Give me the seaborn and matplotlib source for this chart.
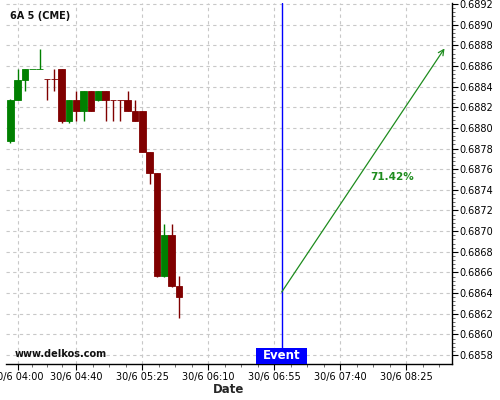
import numpy as np
import pandas as pd
import matplotlib
matplotlib.use("Agg")
import matplotlib.pyplot as plt
import matplotlib.transforms as mtransforms
from matplotlib.patches import Rectangle
import seaborn as sns

# ---- data ----
times = ["03:55", "04:00", "04:05", "04:10", "04:15", "04:20", "04:25", "04:30",
         "04:35", "04:40", "04:45", "04:50", "04:55", "05:00", "05:05", "05:10",
         "05:15", "05:20", "05:25", "05:30", "05:35", "05:40", "05:45", "05:50"]
opens = [0.68787, 0.68827, 0.68846, 0.68857, 0.68857, 0.68847, 0.68847, 0.68857,
         0.68807, 0.68827, 0.68816, 0.68836, 0.68827, 0.68836, 0.68827, 0.68827,
         0.68827, 0.68816, 0.68816, 0.68777, 0.68756, 0.68657, 0.68696, 0.68647]
highs = [0.68828, 0.68857, 0.68857, 0.68857, 0.68876, 0.68847, 0.68857, 0.68857,
         0.68827, 0.68836, 0.68836, 0.68836, 0.68836, 0.68836, 0.68827, 0.68827,
         0.68836, 0.68827, 0.68816, 0.68777, 0.68756, 0.68707, 0.68707, 0.68657]
lows = [0.68785, 0.68827, 0.68836, 0.68857, 0.68857, 0.68827, 0.68836, 0.68805,
        0.68805, 0.68807, 0.68807, 0.68816, 0.68826, 0.68807, 0.68807, 0.68807,
        0.68816, 0.68807, 0.68777, 0.68746, 0.68656, 0.68656, 0.68646, 0.68616]
closes = [0.68827, 0.68846, 0.68857, 0.68857, 0.68857, 0.68847, 0.68847, 0.68807,
          0.68827, 0.68816, 0.68836, 0.68816, 0.68836, 0.68827, 0.68827, 0.68827,
          0.68816, 0.68807, 0.68777, 0.68756, 0.68657, 0.68696, 0.68647, 0.68636]

tick_times = ["04:00", "04:40", "05:25", "06:10", "06:55", "07:40", "08:25"]
tick_labels = ["30/6 " + t for t in tick_times]
y_ticks = [0.6858, 0.6860, 0.6862, 0.6864, 0.6866, 0.6868, 0.6870, 0.6872, 0.6874,
           0.6876, 0.6878, 0.6880, 0.6882, 0.6884, 0.6886, 0.6888, 0.6890, 0.6892]

event_time = "07:00"
arrow_start = ("07:00", 0.68641)
arrow_end = ("08:51", 0.68877)
pct_text = "71.42%"
pct_pos = ("08:15", 0.68752)
title = "6A 5 (CME)"
watermark = "www.delkos.com"


def minutes(t):
    h, m = t.split(":")
    return (int(h) - 4) * 60 + int(m)


df = pd.DataFrame({"t": [minutes(t) for t in times], "open": opens, "high": highs,
                   "low": lows, "close": closes})

GREEN = "#008000"
RED = "#800000"
colors = []
prev_col = GREEN
for i, r in df.iterrows():
    if r.close > r.open:
        c = GREEN
    elif r.close < r.open:
        c = RED
    else:
        pc = df.close.iloc[i - 1] if i > 0 else r.close
        c = GREEN if r.close > pc else (RED if r.close < pc else prev_col)
    colors.append(c)
    prev_col = c
df["color"] = colors

XMIN, XMAX = -7.95, 296.1
YMIN, YMAX = 0.685713, 0.68921

# ---- figure ----
sns.set_theme(style="white")
plt.rcParams["font.family"] = ["DejaVu Sans"]
fig = plt.figure(figsize=(5, 4), dpi=100)
ax = fig.add_axes([0.012, 0.09, 0.892, 0.9025])

# grid
ax.set_axisbelow(True)
ax.grid(True, which="major", color="#c8c8c8", linestyle=(0, (3, 3)), linewidth=0.8)

# wicks
ax.vlines(df.t, df.low, df.high, colors=df.color, linewidth=1.0, zorder=2)
# bodies
bottoms = np.minimum(df.open, df.close)
heights = np.maximum(np.abs(df.close - df.open), 0.0000012)
ax.bar(df.t, heights, bottom=bottoms, width=4.6, color=df.color,
       edgecolor=df.color, linewidth=0.6, zorder=3)

# event line
ev = minutes(event_time)
ax.axvline(ev, color="#0000ff", linewidth=1.0, zorder=4)
trans = mtransforms.blended_transform_factory(ax.transData, ax.transAxes)
ax.add_patch(Rectangle((ev - 17.25, 0.0), 34.5, 0.0435, transform=trans,
                       facecolor="#0000ff", edgecolor="none", zorder=5, clip_on=False))
ax.text(ev, 0.0225, "Event", transform=trans, ha="center", va="center",
        color="white", fontsize=8.5, fontweight="bold", zorder=6)

# arrow
ax.annotate("", xy=(minutes(arrow_end[0]), arrow_end[1]),
            xytext=(minutes(arrow_start[0]), arrow_start[1]),
            arrowprops=dict(arrowstyle="->", color="#1e8c1e", lw=0.9,
                            mutation_scale=10, shrinkA=0, shrinkB=0), zorder=5)
ax.text(minutes(pct_pos[0]), pct_pos[1], pct_text, color="#1e8c1e",
        fontsize=7.5, fontweight="bold", ha="center", va="center")

# title / watermark
ax.text(0.01, 0.965, title, transform=ax.transAxes, fontsize=7, fontweight="bold",
        ha="left", va="center", color="#111111")
ax.text(0.02, 0.028, watermark, transform=ax.transAxes, fontsize=7,
        fontweight="bold", ha="left", va="center", color="#111111")

# axes styling
for s in ["left", "top"]:
    ax.spines[s].set_visible(False)
for s in ["right", "bottom"]:
    ax.spines[s].set_visible(True)
    ax.spines[s].set_color("black")
    ax.spines[s].set_linewidth(1.0)

major_x = [minutes(t) for t in tick_times]
ax.set_xticks(major_x)
ax.set_xticklabels(tick_labels, fontsize=7)
minor_x = []
for a, b in zip(major_x[:-1], major_x[1:]):
    step = (b - a) / 4
    minor_x += [a + step * k for k in (1, 2, 3)]
minor_x += [major_x[-1] + 11.25 * k for k in (1, 2)]
ax.set_xticks([m for m in minor_x if XMIN <= m <= XMAX], minor=True)

ax.yaxis.tick_right()
ax.set_yticks(y_ticks)
ax.set_yticklabels([f"{v:.4f}" for v in y_ticks], fontsize=7)
ymin_ticks = np.arange(0.6858, 0.6893, 0.00004)
ax.set_yticks([v for v in ymin_ticks if YMIN <= v <= YMAX], minor=True)

ax.tick_params(axis="both", which="major", direction="out", length=4, width=0.8,
               color="black", pad=1.5, labelcolor="black")
ax.tick_params(axis="both", which="minor", direction="out", length=2, width=0.6,
               color="#555555")
ax.tick_params(axis="x", which="both", bottom=True, top=False)
ax.tick_params(axis="y", which="both", right=True, left=False)

ax.set_xlabel("Date", fontsize=8.5, fontweight="bold", labelpad=1)
ax.set_ylabel("")

# limits last (set_ticks can expand them)
ax.set_xlim(XMIN, XMAX)
ax.set_ylim(YMIN, YMAX)

fig.savefig("out.png", dpi=100)
